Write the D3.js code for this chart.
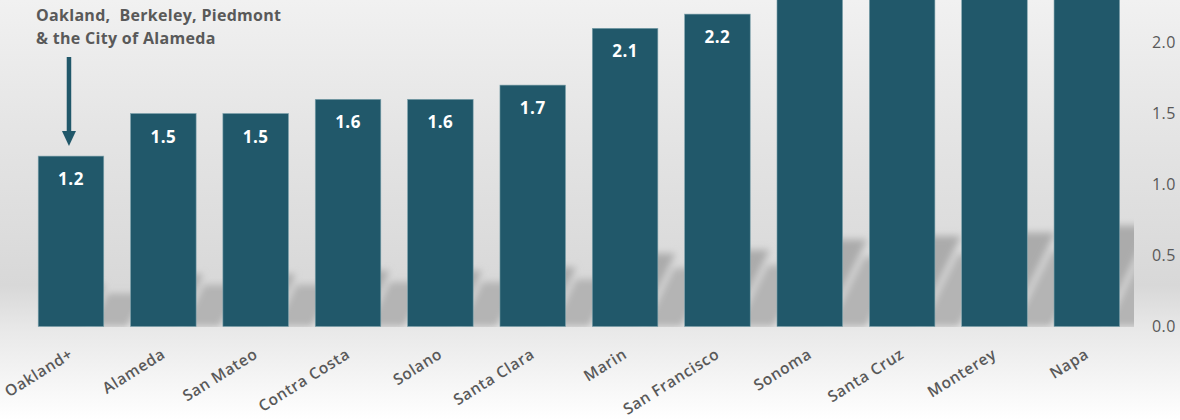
<!DOCTYPE html>
<html>
<head>
<meta charset="utf-8">
<script src="https://cdn.jsdelivr.net/npm/d3@7"></script>
<style>
  html, body { margin: 0; padding: 0; background: #ffffff; }
  svg { display: block; }
  text { font-family: "Open Sans", "Noto Sans", sans-serif; }
</style>
</head>
<body>
<svg id="chart" width="1180" height="420"></svg>
<script>
// Counties, ordered by value
const categories = ["Oakland+", "Alameda", "San Mateo", "Contra Costa", "Solano", "Santa Clara",
                    "Marin", "San Francisco", "Sonoma", "Santa Cruz", "Monterey", "Napa"];
const values = [1.2, 1.5, 1.5, 1.6, 1.6, 1.7, 2.1, 2.2, 2.5, 2.6, 2.7, 2.9];
const tickValues = [0, 0.5, 1.0, 1.5, 2.0];
const tickLabels = ["0.0", "0.5", "1.0", "1.5", "2.0"];
const noteLines = ["Oakland,  Berkeley, Piedmont", "& the City of Alameda"];

const W = 1180, H = 420;
const barColor = "#21586a";
const textGray = "#595959";

const svg = d3.select("#chart");
const defs = svg.append("defs");

// background: light at top, grey through the bars, white under the axis
const bg = defs.append("linearGradient").attr("id", "bg")
  .attr("x1", 0).attr("y1", 0).attr("x2", 0).attr("y2", 1);
[[0, "#f1f1f1"], [0.3, "#e5e5e5"], [0.68, "#d8d8d8"], [0.79, "#e9e9e9"], [1, "#ffffff"]]
  .forEach(([o, c]) => bg.append("stop").attr("offset", o).attr("stop-color", c));
svg.append("rect").attr("width", W).attr("height", H).attr("fill", "url(#bg)");

defs.append("filter").attr("id", "soft")
  .attr("x", "-50%").attr("y", "-50%").attr("width", "200%").attr("height", "200%")
  .append("feGaussianBlur").attr("stdDeviation", 3.5);

defs.append("clipPath").attr("id", "plotClip")
  .append("rect").attr("x", 0).attr("y", 0).attr("width", 1134).attr("height", 327);

const x = d3.scaleBand().domain(categories).range([24.8, 1133]).paddingInner(0.29).paddingOuter(0.145);
const y = d3.scaleLinear().domain([0, 2]).range([326.5, 42.5]);
const bw = x.bandwidth();

// perspective shadow behind each bar: a short slab leaning up-right,
// split by a thin light diagonal near the bar's right edge
const lean = 0.5;          // horizontal shift per pixel of height
function slab(xa, xb, y0, h) {
  return `M${xa},${y0}L${xb},${y0}L${xb + lean * h},${y0 - h}L${xa + lean * h},${y0 - h}Z`;
}
const shadowG = svg.append("g").attr("clip-path", "url(#plotClip)").attr("filter", "url(#soft)");
categories.forEach((c, i) => {
  const x0 = x(c), x1 = x0 + bw, y0 = y(0);
  const h = 0.245 * (y0 - y(values[i]));
  shadowG.append("path").attr("d", slab(x0 + 4, x1 - 19, y0, h)).attr("fill", "#ababab");
  shadowG.append("path").attr("d", slab(x1 - 13, x1 + 24, y0, h * 0.8)).attr("fill", "#b4b4b4");
});

// bars
svg.append("g").selectAll("rect").data(categories).join("rect")
  .attr("x", c => x(c))
  .attr("width", bw)
  .attr("y", (c, i) => y(values[i]))
  .attr("height", (c, i) => y(0) - y(values[i]))
  .attr("fill", barColor)
  .attr("stroke", "#7fa3ad")
  .attr("stroke-width", 0.6);

// value labels inside the bar tops (only where the top of the bar is in view)
const labelled = categories.map((c, i) => ({ c, v: values[i] }))
  .filter(d => y(d.v) + 29 - 14 >= 0);
svg.append("g").selectAll("text").data(labelled).join("text")
  .attr("x", d => x(d.c) + bw / 2)
  .attr("y", d => y(d.v) + 29)
  .attr("text-anchor", "middle")
  .attr("fill", "#ffffff")
  .attr("font-weight", 700)
  .attr("font-size", "17px")
  .attr("letter-spacing", "0.5px")
  .text(d => d.v.toFixed(1));

// right value axis
const yAxis = d3.axisRight(y).tickValues(tickValues).tickSize(0).tickPadding(11)
  .tickFormat((d, i) => tickLabels[i]);
const ya = svg.append("g").attr("transform", "translate(1141,0)").call(yAxis);
ya.select(".domain").remove();
ya.selectAll("text")
  .attr("fill", textGray)
  .attr("font-size", "16px")
  .attr("letter-spacing", "0.4px")
  .style("font-family", '"Open Sans", sans-serif');

// category axis, labels slanted
const xAxis = d3.axisBottom(x).tickSize(0).tickPadding(0);
const xa = svg.append("g").attr("transform", "translate(0,357)").call(xAxis);
xa.select(".domain").remove();
xa.selectAll("text")
  .attr("fill", textGray)
  .attr("font-size", "15.5px")
  .attr("font-weight", 600)
  .attr("letter-spacing", "0.6px")
  .style("font-family", '"Open Sans", sans-serif')
  .attr("text-anchor", "end")
  .attr("y", 0)
  .attr("dy", 0)
  .attr("transform", "translate(3,0) rotate(-32)");

// note and arrow over the first bar
const note = svg.append("text")
  .attr("x", 36).attr("y", 21)
  .attr("fill", textGray)
  .attr("font-weight", 700)
  .attr("font-size", "16px")
  .attr("letter-spacing", "0.3px")
  .style("white-space", "pre");
note.selectAll("tspan").data(noteLines).join("tspan")
  .attr("x", 36)
  .attr("dy", (d, i) => i === 0 ? 0 : 22.5)
  .text(d => d);

const ax = x(categories[0]) + bw / 2 - 2;
svg.append("line")
  .attr("x1", ax).attr("x2", ax).attr("y1", 57).attr("y2", 133)
  .attr("stroke", barColor).attr("stroke-width", 4.5);
svg.append("path")
  .attr("d", `M${ax - 7},131L${ax + 7},131L${ax},146Z`)
  .attr("fill", barColor);
</script>
</body>
</html>
